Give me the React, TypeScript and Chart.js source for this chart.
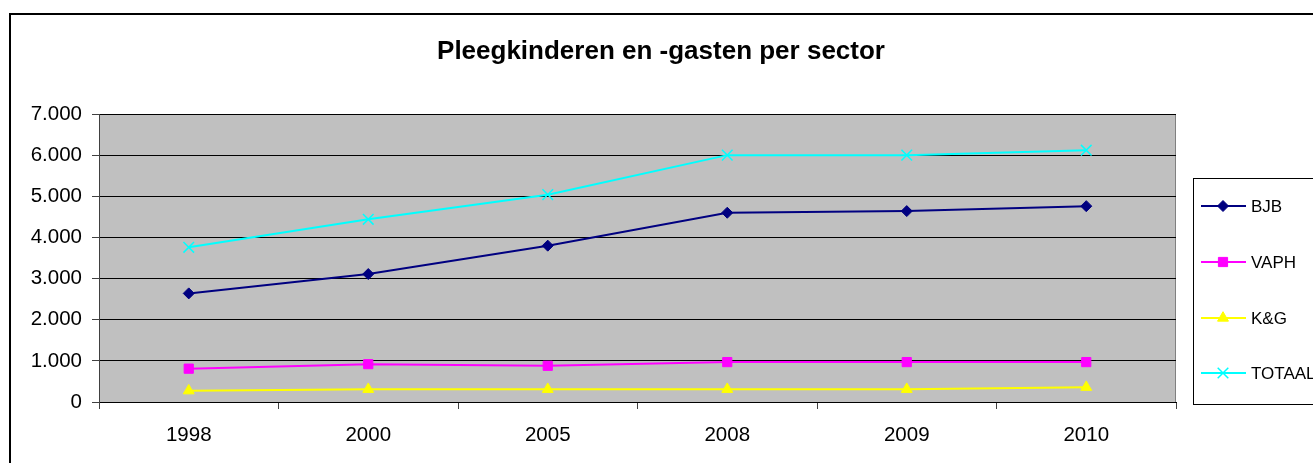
import React, { useEffect, useRef } from 'react';
import { Chart, registerables } from 'chart.js';

Chart.register(...registerables);

const years = ['1998', '2000', '2005', '2008', '2009', '2010'];
const bjb = [2640, 3110, 3800, 4600, 4640, 4760];
const vaph = [810, 920, 880, 970, 970, 970];
const kg = [275, 310, 310, 310, 310, 360];
const totaal = [3760, 4440, 5040, 6000, 6000, 6120];
const seriesNames = ['BJB', 'VAPH', 'K&G', 'TOTAAL'];
const seriesColors = ['#000080', '#FF00FF', '#FFFF00', '#00FFFF'];
const seriesShapes = ['rectRot', 'rect', 'triangle', 'crossRot'];
const seriesRadius = [5.5, 6.5, 6.3, 7.5];
const title = 'Pleegkinderen en -gasten per sector';
const yMin = 0;
const yMax = 7000;
const yStep = 1000;

const FONT = '"Liberation Sans", Arial, sans-serif';

function fmt(v: number): string {
  return String(v).replace(/\B(?=(\d{3})+(?!\d))/g, '.');
}

function drawMarker(ctx: CanvasRenderingContext2D, shape: string, x: number, y: number, r: number, color: string) {
  ctx.save();
  ctx.fillStyle = color;
  ctx.strokeStyle = color;
  ctx.lineWidth = 1;
  ctx.beginPath();
  if (shape === 'rectRot') {
    ctx.moveTo(x - r, y);
    ctx.lineTo(x, y - r);
    ctx.lineTo(x + r, y);
    ctx.lineTo(x, y + r);
    ctx.closePath();
    ctx.fill();
    ctx.stroke();
  } else if (shape === 'rect') {
    const s = Math.SQRT1_2 * r;
    ctx.rect(x - s, y - s, 2 * s, 2 * s);
    ctx.fill();
    ctx.stroke();
  } else if (shape === 'triangle') {
    const a = -Math.PI / 2;
    ctx.moveTo(x + Math.cos(a) * r, y + Math.sin(a) * r);
    ctx.lineTo(x + Math.cos(a + (2 * Math.PI) / 3) * r, y + Math.sin(a + (2 * Math.PI) / 3) * r);
    ctx.lineTo(x + Math.cos(a + (4 * Math.PI) / 3) * r, y + Math.sin(a + (4 * Math.PI) / 3) * r);
    ctx.closePath();
    ctx.fill();
    ctx.stroke();
  } else {
    const o = Math.SQRT1_2 * r;
    ctx.lineWidth = 1.5;
    ctx.moveTo(x - o, y - o);
    ctx.lineTo(x + o, y + o);
    ctx.moveTo(x - o, y + o);
    ctx.lineTo(x + o, y - o);
    ctx.stroke();
  }
  ctx.restore();
}

const decorPlugin = {
  id: 'decor',
  beforeDraw(chart: any) {
    const { ctx, chartArea } = chart;
    ctx.save();
    ctx.fillStyle = '#FFFFFF';
    ctx.fillRect(0, 0, chart.width, chart.height);
    ctx.fillStyle = '#C0C0C0';
    ctx.fillRect(chartArea.left, chartArea.top, chartArea.right - chartArea.left, chartArea.bottom - chartArea.top);
    ctx.strokeStyle = '#808080';
    ctx.lineWidth = 1;
    ctx.beginPath();
    ctx.moveTo(chartArea.right - 0.5, chartArea.top);
    ctx.lineTo(chartArea.right - 0.5, chartArea.bottom);
    ctx.stroke();
    ctx.restore();
  },
  afterDraw(chart: any) {
    const { ctx } = chart;
    ctx.save();
    // outer frame
    ctx.strokeStyle = '#000000';
    ctx.lineWidth = 2;
    ctx.strokeRect(10, 14, 1500, 600);
    // title
    ctx.fillStyle = '#000000';
    ctx.font = 'bold 26px ' + FONT;
    ctx.textAlign = 'center';
    ctx.textBaseline = 'alphabetic';
    ctx.fillText(title, 661, 59);
    // legend box
    ctx.lineWidth = 1;
    ctx.strokeStyle = '#000000';
    ctx.strokeRect(1193.5, 178.5, 300, 226);
    const ys = [206, 262, 318, 373];
    ctx.font = '17px ' + FONT;
    ctx.textAlign = 'left';
    ctx.textBaseline = 'middle';
    seriesNames.forEach((name, i) => {
      const y = ys[i];
      ctx.strokeStyle = seriesColors[i];
      ctx.lineWidth = 2;
      ctx.beginPath();
      ctx.moveTo(1201, y);
      ctx.lineTo(1246, y);
      ctx.stroke();
      drawMarker(ctx, seriesShapes[i], 1223, y, seriesRadius[i], seriesColors[i]);
      ctx.fillStyle = '#000000';
      ctx.fillText(name, 1251, y + 1);
    });
    ctx.restore();
  },
};

export default function App() {
  const ref = useRef<HTMLCanvasElement | null>(null);
  useEffect(() => {
    if (!ref.current) return;
    const values = [bjb, vaph, kg, totaal];
    const chart = new Chart(ref.current, {
      type: 'line',
      data: {
        labels: years,
        datasets: values.map((d, i) => ({
          label: seriesNames[i],
          data: d,
          borderColor: seriesColors[i],
          backgroundColor: seriesColors[i],
          pointBackgroundColor: seriesColors[i],
          pointBorderColor: seriesColors[i],
          pointStyle: seriesShapes[i] as any,
          pointRadius: seriesRadius[i],
          pointBorderWidth: i === 3 ? 1.5 : 1,
          borderWidth: 2,
          tension: 0,
          fill: false,
        })),
      },
      options: {
        responsive: false,
        animation: false,
        layout: { padding: { top: 114, right: 137, left: 0, bottom: 0 } },
        plugins: {
          legend: { display: false },
          title: { display: false },
          tooltip: { enabled: false },
        },
        scales: {
          x: {
            type: 'category',
            offset: true,
            afterFit: (s: any) => { s.height = 61; },
            grid: {
              offset: true,
              drawOnChartArea: false,
              drawTicks: true,
              tickLength: 7,
              color: '#404040',
              tickColor: '#404040',
            },
            border: { display: true, color: '#000000', width: 1 },
            ticks: {
              color: '#000000',
              font: { family: FONT, size: 20.5 },
              padding: 14,
              maxRotation: 0,
              autoSkip: false,
            },
          },
          y: {
            min: yMin,
            max: yMax,
            afterFit: (s: any) => { s.width = 99; },
            grid: {
              color: '#000000',
              lineWidth: 1,
              tickLength: 7,
              tickColor: '#404040',
            },
            border: { display: true, color: '#404040', width: 1 },
            ticks: {
              stepSize: yStep,
              color: '#000000',
              font: { family: FONT, size: 20.5 },
              padding: 10,
              callback: (v: any) => fmt(Number(v)),
            },
          },
        },
      },
      plugins: [decorPlugin],
    });
    return () => chart.destroy();
  }, []);
  return (
    <div style={{ position: 'fixed', left: 0, top: 0, width: 1313, height: 463, overflow: 'hidden' }}>
      <canvas ref={ref} width={1313} height={463} style={{ display: 'block' }} />
    </div>
  );
}
